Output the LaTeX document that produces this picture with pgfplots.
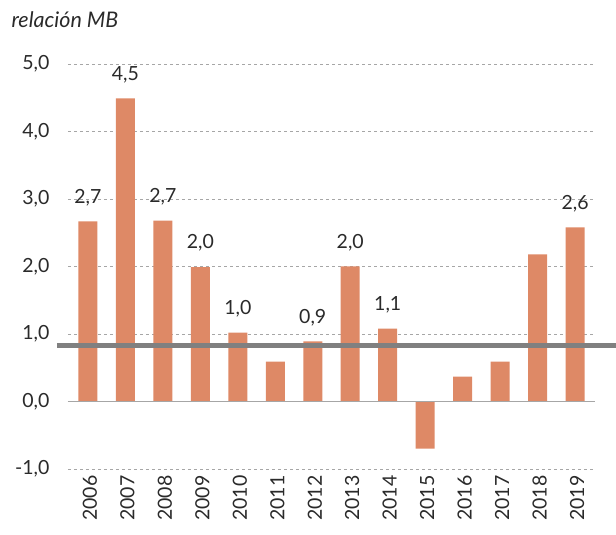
\documentclass[border=0pt]{standalone}
\usepackage{pgfplots}
\pgfplotsset{compat=1.18}
\usepackage{fontspec}
\setmainfont{Lato}
\definecolor{barc}{HTML}{DE8966}
\definecolor{gridc}{HTML}{A6A6A6}
\definecolor{refc}{HTML}{808080}
\definecolor{txt}{HTML}{2A2A2A}
\begin{document}
\begin{tikzpicture}
\begin{axis}[
  scale only axis,
  width=527pt, height=405pt,
  xmin=-0.53, xmax=13.53,
  ymin=-1, ymax=5,
  ytick={-1,0,1,2,3,4,5},
  xtick={0,...,13},
  xticklabels={2006,2007,2008,2009,2010,2011,2012,2013,2014,2015,2016,2017,2018,2019},
  axis line style={draw=none},
  major tick length=0pt,
  ymajorgrids,
  grid style={gridc, dashed, line width=0.8pt},
  tick label style={font=\fontsize{19.5}{22}\selectfont, text=txt},
  yticklabel style={xshift=-15pt},
  xticklabel style={rotate=90, anchor=east, yshift=-2pt, xshift=-3pt},
  /pgf/number format/.cd, use comma, fixed, fixed zerofill, precision=1, assume math mode=true,
  /pgfplots/.cd,
  clip=false,
  point meta=explicit symbolic,
  nodes near coords={\pgfplotspointmeta},
  every node near coord/.append style={font=\fontsize{19.5}{22}\selectfont, text=txt, yshift=12pt},
]
\addplot[ybar, bar width=19pt, fill=barc, draw=none] coordinates {
  (0,2.67) [2,7]
  (1,4.49) [4,5]
  (2,2.68) [2,7]
  (3,1.99) [2,0]
  (4,1.02) [1,0]
  (5,0.59) []
  (6,0.89) [0,9]
  (7,2.00) [2,0]
  (8,1.08) [1,1]
  (9,-0.70) []
  (10,0.37) []
  (11,0.59) []
  (12,2.18) []
  (13,2.58) [2,6]
};
\addplot[gridc, line width=1.2pt, no marks, nodes near coords={}] coordinates {(-0.53,0) (13.53,0)};
\addplot[refc, line width=5.5pt, no marks, nodes near coords={}] coordinates {(-0.83,0.83) (14.08,0.83)};
\end{axis}
\node[anchor=west, font=\fontsize{21.5}{24}\selectfont\itshape, text=txt] at ([xshift=-60pt,yshift=44pt]current axis.north west) {relación MB};
\pgfresetboundingbox
\path[use as bounding box] ([xshift=-68pt,yshift=-66pt]current axis.south west) rectangle ([xshift=21pt,yshift=64pt]current axis.north east);
\end{tikzpicture}
\end{document}
